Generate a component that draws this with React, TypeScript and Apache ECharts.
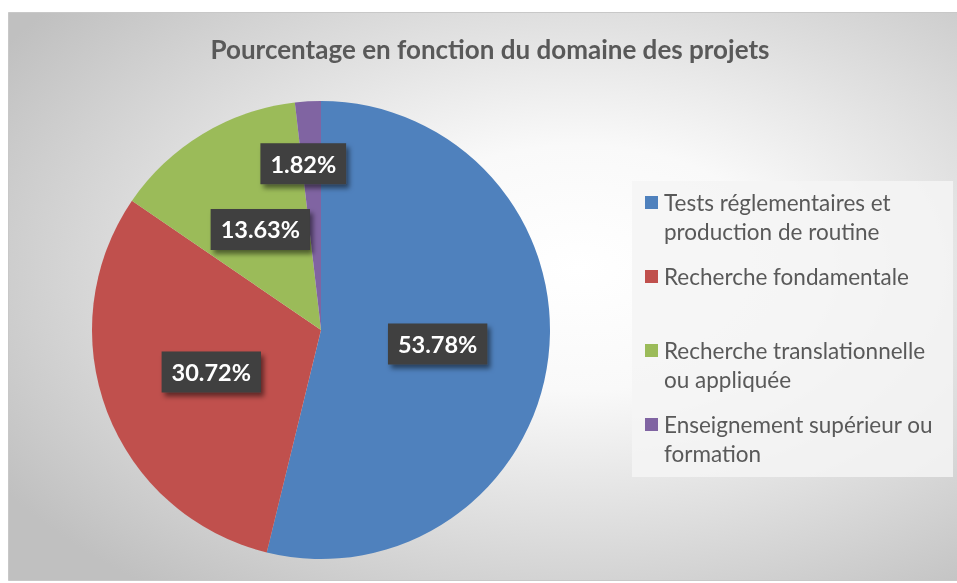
import React, { useEffect, useRef } from "react";
import * as echarts from "echarts";

const categories = [
  "Tests réglementaires et production de routine",
  "Recherche fondamentale",
  "Recherche translationnelle ou appliquée",
  "Enseignement supérieur ou formation",
];
const legendLines = [
  ["Tests réglementaires et", "production de routine"],
  ["Recherche fondamentale", ""],
  ["Recherche translationnelle", "ou appliquée"],
  ["Enseignement supérieur ou", "formation"],
];
const percentages = [53.78, 30.72, 13.63, 1.82];
const colors = ["#4f81bd", "#c0504d", "#9bbb59", "#8064a2"];
const titleText = "Pourcentage en fonction du domaine des projets";

export default function App() {
  const ref = useRef<HTMLDivElement>(null);
  useEffect(() => {
    if (!ref.current) return;
    const chart = echarts.init(ref.current, null, { renderer: "svg" });
    const rich: Record<string, any> = {
      t: { fontFamily: "Lato", fontSize: 22.5, color: "#595959", lineHeight: 29 },
      g: { width: 6, lineHeight: 29 },
      g2: { width: 19, lineHeight: 29 },
    };
    colors.forEach((c, i) => {
      rich["m" + i] = { width: 13, height: 13, backgroundColor: c, lineHeight: 29, verticalAlign: "middle" };
    });
    chart.setOption({
      animation: false,
      graphic: [
        {
          type: "rect",
          silent: true,
          z: -10,
          shape: { x: 8.5, y: 12.5, width: 950, height: 568 },
          style: {
            fill: new echarts.graphic.RadialGradient(0.6, 0.45, 0.72, [
              { offset: 0, color: "#ffffff" },
              { offset: 0.3, color: "#f9f9f9" },
              { offset: 1, color: "#c0c0c0" },
            ]),
            stroke: "#c8c8c8",
            lineWidth: 1,
          },
        },
        {
          type: "rect",
          silent: true,
          z: -9,
          shape: { x: 632, y: 181, width: 321, height: 296 },
          style: { fill: "rgba(244,244,244,0.85)" },
        },
      ],
      title: {
        text: titleText,
        left: 490,
        top: 36,
        textAlign: "center",
        padding: 0,
        textStyle: { fontFamily: "Lato", fontSize: 26, fontWeight: "bold", color: "#595959" },
      },
      legend: {
        orient: "vertical",
        left: 640,
        top: 188,
        padding: 0,
        itemGap: 16,
        itemWidth: 0,
        itemHeight: 0,
        icon: "rect",
        itemStyle: { opacity: 0 },
        selectedMode: false,
        data: categories,
        formatter: (name: string) => {
          const i = categories.indexOf(name);
          const [l1, l2] = legendLines[i];
          return `{m${i}|}{g|}{t|${l1}}\n{g2|}{t|${l2 || " "}}`;
        },
        textStyle: { rich, lineHeight: 29 },
      },
      series: [
        {
          type: "pie",
          center: [321, 330],
          radius: 229,
          startAngle: 90,
          clockwise: true,
          silent: true,
          emphasis: { disabled: true },
          itemStyle: { borderWidth: 0 },
          data: categories.map((name, i) => ({
            name,
            value: percentages[i],
            itemStyle: { color: colors[i] },
          })),
          label: {
            show: true,
            position: "inside",
            formatter: (p: any) => p.value.toFixed(2) + "%",
            color: "#ffffff",
            fontFamily: "Lato",
            fontWeight: "bold",
            fontSize: 23.5,
            lineHeight: 25,
            backgroundColor: "#3f3f3f",
            padding: [8, 10],
            shadowBlur: 5,
            shadowColor: "rgba(0,0,0,0.5)",
            shadowOffsetX: 3,
            shadowOffsetY: 4,
          },
          labelLine: { show: false },
          labelLayout: (params: any) =>
            params.dataIndex === 3 ? { dx: -11, dy: -49 } : {},
        },
      ],
    });
    return () => chart.dispose();
  }, []);
  return (
    <div
      ref={ref}
      style={{ position: "fixed", left: 0, top: 0, width: 957, height: 583 }}
    />
  );
}
